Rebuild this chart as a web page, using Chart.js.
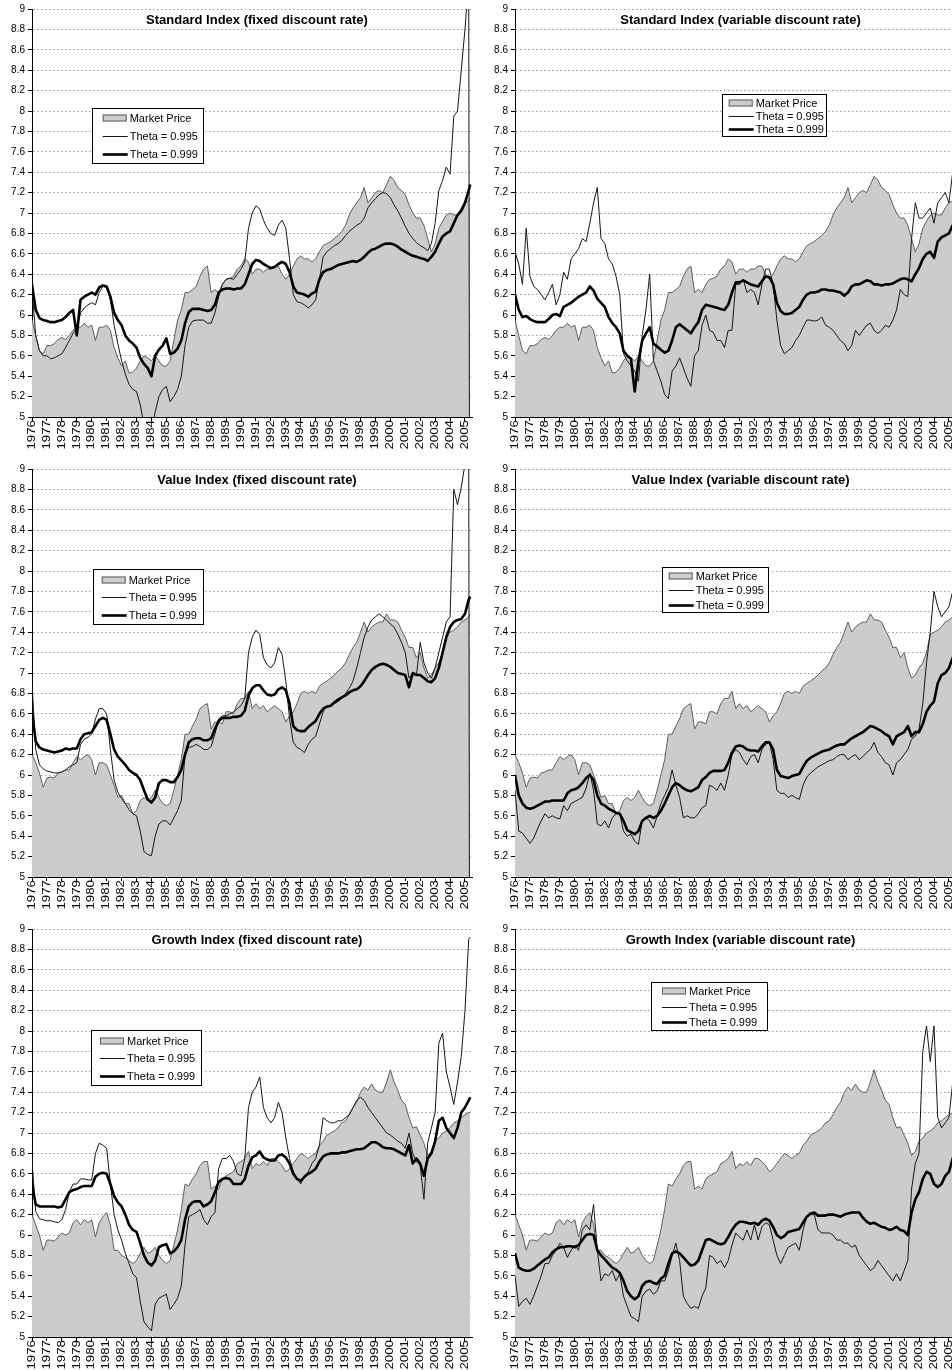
<!DOCTYPE html>
<html>
<head>
<meta charset="utf-8">
<script src="https://cdn.jsdelivr.net/npm/chart.js@4.4.1/dist/chart.umd.min.js"></script>
<style>
html, body { margin: 0; padding: 0; background: #fff; overflow: hidden; }
body { width: 952px; height: 1370px; position: relative; }
.panel { position: absolute; height: 455px; }
.panel.left { left: 0; width: 476px; }
.panel.right { left: 476px; width: 484px; }
</style>
</head>
<body>
<div class="panel left" style="top:0"><canvas id="c1" width="476" height="455"></canvas></div>
<div class="panel right" style="top:0"><canvas id="c2" width="484" height="455"></canvas></div>
<div class="panel left" style="top:460px"><canvas id="c3" width="476" height="455"></canvas></div>
<div class="panel right" style="top:460px"><canvas id="c4" width="484" height="455"></canvas></div>
<div class="panel left" style="top:920px"><canvas id="c5" width="476" height="455"></canvas></div>
<div class="panel right" style="top:920px"><canvas id="c6" width="484" height="455"></canvas></div>
<script>
// quarterly sample dates, last one is the final month shown
const tQuarter = [];
for (let i = 0; i < 118; i++) tQuarter.push(1976 + i / 4);
tQuarter.push(2005.35);

// ---- Standard index ----
const priceStd = [
    5.95, 5.80, 5.65, 5.62, 5.70, 5.70, 5.72, 5.76,
    5.78, 5.76, 5.80, 5.85, 5.88, 5.88, 5.92, 5.88,
    5.90, 5.75, 5.88, 5.88, 5.90, 5.85, 5.68, 5.58,
    5.50, 5.55, 5.43, 5.44, 5.48, 5.55, 5.60, 5.58,
    5.55, 5.60, 5.55, 5.50, 5.50, 5.55, 5.75, 5.95,
    6.05, 6.22, 6.22, 6.25, 6.28, 6.38, 6.45, 6.48,
    6.22, 6.25, 6.22, 6.30, 6.35, 6.36, 6.38, 6.45,
    6.48, 6.55, 6.52, 6.40, 6.45, 6.45, 6.42, 6.45,
    6.45, 6.48, 6.48, 6.40, 6.35, 6.40, 6.48, 6.55,
    6.58, 6.55, 6.55, 6.52, 6.55, 6.62, 6.68, 6.70,
    6.72, 6.75, 6.78, 6.82, 6.88, 6.98, 7.05, 7.10,
    7.15, 7.25, 7.10, 7.15, 7.20, 7.22, 7.20, 7.28,
    7.36, 7.32, 7.25, 7.22, 7.18, 7.08, 7.00, 6.95,
    6.95, 6.88, 6.75, 6.62, 6.70, 6.85, 6.92, 6.98,
    7.00, 6.98, 6.98, 7.05, 7.10, 7.12, 7.15
];
const stdFixed995 = [
    6.25, 5.80, 5.65, 5.60, 5.60, 5.57, 5.58, 5.60,
    5.62, 5.68, 5.75, 5.82, 5.87, 6.02, 6.07, 6.10,
    6.12, 6.10, 6.22, 6.28, 6.27, 6.15, 5.90, 5.72,
    5.55, 5.42, 5.32, 5.27, 5.25, 5.12, 4.92, 4.85,
    4.85, 5.05, 5.20, 5.27, 5.30, 5.15, 5.20, 5.27,
    5.40, 5.70, 5.88, 5.94, 5.95, 5.95, 5.95, 5.92,
    5.92, 6.02, 6.18, 6.30, 6.35, 6.36, 6.35, 6.40,
    6.45, 6.52, 6.85, 7.00, 7.07, 7.04, 6.93, 6.85,
    6.80, 6.78, 6.88, 6.93, 6.85, 6.55, 6.20, 6.13,
    6.12, 6.10, 6.07, 6.10, 6.15, 6.35, 6.57, 6.62,
    6.65, 6.68, 6.70, 6.73, 6.78, 6.82, 6.85, 6.88,
    6.90, 6.95, 7.05, 7.10, 7.14, 7.18, 7.20, 7.19,
    7.15, 7.08, 7.02, 6.95, 6.87, 6.80, 6.75, 6.71,
    6.68, 6.66, 6.63, 6.70, 6.90, 7.22, 7.32, 7.45,
    7.38, 7.95, 8.00, 8.40, 8.80, 9.30, 0
];
const stdFixed999 = [
    6.30, 6.05, 5.97, 5.95, 5.94, 5.93, 5.93, 5.94,
    5.95, 5.98, 6.02, 6.05, 5.80, 6.15, 6.18, 6.20,
    6.22, 6.20, 6.27, 6.29, 6.28, 6.18, 6.02, 5.95,
    5.90, 5.80, 5.75, 5.72, 5.68, 5.58, 5.52, 5.48,
    5.40, 5.60, 5.66, 5.70, 5.77, 5.62, 5.63, 5.67,
    5.75, 5.92, 6.03, 6.06, 6.06, 6.06, 6.05, 6.04,
    6.05, 6.10, 6.22, 6.25, 6.26, 6.26, 6.25, 6.26,
    6.26, 6.30, 6.40, 6.50, 6.54, 6.53, 6.50, 6.48,
    6.46, 6.47, 6.50, 6.52, 6.50, 6.42, 6.28, 6.22,
    6.21, 6.20, 6.18, 6.21, 6.23, 6.35, 6.42, 6.44,
    6.45, 6.47, 6.49, 6.50, 6.51, 6.52, 6.53, 6.52,
    6.54, 6.57, 6.61, 6.64, 6.65, 6.67, 6.69, 6.70,
    6.70, 6.69, 6.67, 6.64, 6.62, 6.60, 6.58, 6.57,
    6.56, 6.55, 6.53, 6.57, 6.62, 6.70, 6.77, 6.80,
    6.82, 6.90, 6.98, 7.02, 7.10, 7.22, 7.28
];
const stdVar995 = [
    6.62, 6.50, 6.30, 6.85, 6.38, 6.28, 6.25, 6.20,
    6.15, 6.22, 6.30, 6.10, 6.20, 6.42, 6.35, 6.55,
    6.60, 6.65, 6.75, 6.72, 6.90, 7.10, 7.25, 6.75,
    6.70, 6.55, 6.50, 6.38, 6.20, 5.62, 5.55, 5.50,
    5.45, 5.35, 5.80, 6.05, 6.40, 5.55, 5.45, 5.35,
    5.22, 5.18, 5.45, 5.50, 5.58, 5.48, 5.38, 5.30,
    5.60, 5.65, 5.90, 6.00, 5.85, 5.83, 5.75, 5.75,
    5.68, 5.85, 5.85, 6.30, 6.30, 6.35, 6.22, 6.25,
    6.22, 6.10, 6.30, 6.45, 6.45, 6.30, 5.95, 5.70,
    5.62, 5.65, 5.68, 5.75, 5.80, 5.88, 5.95, 5.95,
    5.94, 5.95, 5.98, 5.90, 5.88, 5.85, 5.80, 5.75,
    5.72, 5.65, 5.70, 5.85, 5.80, 5.85, 5.90, 5.92,
    5.85, 5.82, 5.85, 5.90, 5.88, 5.95, 6.05, 6.25,
    6.20, 6.18, 6.75, 7.10, 6.95, 6.95, 7.00, 7.05,
    6.90, 7.10, 7.15, 7.20, 7.10, 7.40, 7.45
];
const stdVar999 = [
    6.20, 6.05, 5.98, 5.99, 5.96, 5.94, 5.93, 5.93,
    5.93, 5.96, 6.00, 6.01, 5.99, 6.08, 6.10, 6.12,
    6.15, 6.18, 6.20, 6.22, 6.28, 6.24, 6.16, 6.12,
    6.08, 5.98, 5.92, 5.88, 5.82, 5.65, 5.60, 5.57,
    5.25, 5.55, 5.75, 5.82, 5.88, 5.72, 5.69, 5.66,
    5.63, 5.65, 5.75, 5.88, 5.91, 5.88, 5.85, 5.82,
    5.88, 5.93, 6.05, 6.10, 6.09, 6.08, 6.07, 6.06,
    6.05, 6.10, 6.22, 6.32, 6.32, 6.34, 6.32, 6.30,
    6.29, 6.28, 6.33, 6.38, 6.37, 6.30, 6.12, 6.04,
    6.01, 6.01, 6.02, 6.05, 6.08, 6.15, 6.20, 6.22,
    6.22, 6.23, 6.25, 6.25, 6.24, 6.24, 6.23, 6.22,
    6.19, 6.22, 6.28, 6.30, 6.30, 6.32, 6.34, 6.33,
    6.30, 6.30, 6.29, 6.30, 6.30, 6.31, 6.33, 6.35,
    6.36, 6.35, 6.33, 6.40, 6.46, 6.55, 6.60, 6.62,
    6.56, 6.72, 6.76, 6.78, 6.80, 6.88, 6.92
];

// ---- Value index ----
const priceVal = [
    6.20, 6.12, 6.02, 5.88, 5.97, 5.98, 5.97, 6.02,
    6.03, 6.05, 6.05, 6.12, 6.18, 6.15, 6.18, 6.20,
    6.15, 6.00, 6.12, 6.12, 6.10, 6.00, 5.90, 5.78,
    5.80, 5.72, 5.72, 5.62, 5.65, 5.75, 5.78, 5.75,
    5.78, 5.85, 5.78, 5.72, 5.70, 5.72, 5.85, 6.00,
    6.15, 6.40, 6.40, 6.48, 6.55, 6.65, 6.68, 6.70,
    6.45, 6.52, 6.52, 6.50, 6.62, 6.62, 6.60, 6.70,
    6.75, 6.75, 6.82, 6.65, 6.70, 6.65, 6.68, 6.62,
    6.65, 6.68, 6.65, 6.62, 6.52, 6.58, 6.62, 6.70,
    6.80, 6.82, 6.80, 6.82, 6.80, 6.87, 6.90, 6.92,
    6.95, 6.98, 7.02, 7.05, 7.10, 7.18, 7.25, 7.30,
    7.40, 7.50, 7.40, 7.45, 7.48, 7.50, 7.50, 7.58,
    7.52, 7.52, 7.50, 7.42, 7.35, 7.25, 7.25, 7.15,
    7.20, 7.05, 6.95, 6.98, 7.05, 7.10, 7.20, 7.38,
    7.40, 7.42, 7.45, 7.50, 7.52, 7.55, 7.58
];
const valFixed995 = [
    6.90, 6.25, 6.10, 6.06, 6.04, 6.03, 6.02, 6.02,
    6.03, 6.05, 6.08, 6.10, 6.12, 6.30, 6.35, 6.37,
    6.40, 6.55, 6.65, 6.65, 6.60, 6.25, 5.95, 5.83,
    5.77, 5.72, 5.66, 5.62, 5.60, 5.45, 5.25, 5.22,
    5.21, 5.40, 5.52, 5.55, 5.55, 5.51, 5.58, 5.65,
    5.75, 6.20, 6.27, 6.28, 6.30, 6.28, 6.25, 6.25,
    6.28, 6.40, 6.55, 6.58, 6.58, 6.60, 6.62, 6.65,
    6.68, 6.75, 7.20, 7.35, 7.42, 7.38, 7.15, 7.08,
    7.05, 7.10, 7.25, 7.18, 6.92, 6.55, 6.32, 6.27,
    6.25, 6.22, 6.30, 6.35, 6.38, 6.50, 6.62, 6.68,
    6.68, 6.70, 6.72, 6.75, 6.80, 6.85, 6.92, 7.05,
    7.20, 7.35, 7.45, 7.52, 7.55, 7.58, 7.55, 7.52,
    7.48, 7.45, 7.38, 7.30, 7.20, 6.95, 7.00, 6.98,
    7.30, 7.10, 7.00, 6.95, 7.05, 7.20, 7.35, 7.50,
    7.55, 8.80, 8.65, 8.82, 9.05, 9.30, 0
];
const valFixed999 = [
    6.62, 6.33, 6.27, 6.25, 6.24, 6.23, 6.22, 6.23,
    6.24, 6.26, 6.25, 6.26, 6.26, 6.35, 6.40, 6.41,
    6.42, 6.48, 6.54, 6.56, 6.54, 6.40, 6.25, 6.18,
    6.14, 6.10, 6.05, 6.02, 6.00, 5.95, 5.85, 5.76,
    5.73, 5.78, 5.92, 5.95, 5.95, 5.93, 5.93, 5.98,
    6.05, 6.20, 6.32, 6.35, 6.36, 6.36, 6.34, 6.34,
    6.36, 6.45, 6.53, 6.56, 6.56, 6.56, 6.57, 6.57,
    6.58, 6.63, 6.78, 6.85, 6.88, 6.88, 6.83, 6.79,
    6.78, 6.79, 6.84, 6.86, 6.83, 6.70, 6.48, 6.44,
    6.43, 6.43, 6.47, 6.50, 6.53, 6.60, 6.65, 6.67,
    6.68, 6.71, 6.74, 6.76, 6.78, 6.81, 6.83, 6.84,
    6.87, 6.92, 6.98, 7.03, 7.06, 7.08, 7.09, 7.08,
    7.06, 7.03, 7.00, 6.99, 6.98, 6.86, 7.00, 6.98,
    6.98, 6.95, 6.92, 6.91, 6.95, 7.05, 7.20, 7.35,
    7.45, 7.50, 7.52, 7.53, 7.58, 7.72, 7.75
];
const valVar995 = [
    5.85, 5.45, 5.43, 5.38, 5.33, 5.38, 5.47, 5.55,
    5.62, 5.58, 5.60, 5.58, 5.57, 5.70, 5.65, 5.72,
    5.74, 5.76, 5.78, 5.87, 6.02, 5.85, 5.52, 5.50,
    5.55, 5.48, 5.58, 5.62, 5.62, 5.45, 5.40, 5.42,
    5.35, 5.32, 5.55, 5.58, 5.55, 5.48, 5.60, 5.72,
    5.80, 5.88, 6.05, 5.90, 5.78, 5.58, 5.60, 5.58,
    5.58, 5.62, 5.68, 5.70, 5.90, 5.88, 5.85, 5.92,
    5.85, 6.00, 6.20, 6.25, 6.22, 6.15, 6.10, 6.18,
    6.20, 6.12, 6.25, 6.30, 6.32, 6.15, 5.85, 5.82,
    5.82, 5.78, 5.80, 5.78, 5.76, 5.90, 5.98, 6.02,
    6.05, 6.08, 6.10, 6.12, 6.14, 6.15, 6.18, 6.20,
    6.20, 6.15, 6.18, 6.20, 6.15, 6.18, 6.22, 6.25,
    6.32, 6.22, 6.18, 6.12, 6.10, 6.00, 6.12, 6.15,
    6.20, 6.25, 6.35, 6.38, 6.45, 6.70, 7.10, 7.40,
    7.80, 7.65, 7.55, 7.60, 7.65, 7.80, 7.82
];
const valVar999 = [
    6.00, 5.80, 5.72, 5.68, 5.67, 5.68, 5.70, 5.72,
    5.74, 5.74, 5.75, 5.75, 5.75, 5.75, 5.82, 5.85,
    5.86, 5.88, 5.92, 5.97, 6.00, 5.95, 5.80, 5.72,
    5.70, 5.67, 5.65, 5.63, 5.62, 5.55, 5.46, 5.44,
    5.42, 5.45, 5.55, 5.58, 5.60, 5.58, 5.60, 5.65,
    5.72, 5.80, 5.88, 5.92, 5.90, 5.87, 5.85, 5.84,
    5.86, 5.88, 5.95, 5.98, 6.02, 6.04, 6.04, 6.04,
    6.05, 6.12, 6.22, 6.28, 6.29, 6.28, 6.25, 6.24,
    6.24, 6.23, 6.28, 6.32, 6.32, 6.25, 6.05, 5.99,
    5.98, 5.97, 5.99, 6.00, 6.01, 6.08, 6.14, 6.17,
    6.19, 6.21, 6.23, 6.24, 6.25, 6.27, 6.29, 6.30,
    6.30, 6.33, 6.36, 6.38, 6.40, 6.42, 6.45, 6.48,
    6.47, 6.45, 6.43, 6.40, 6.38, 6.30, 6.38, 6.40,
    6.42, 6.48, 6.38, 6.42, 6.42, 6.50, 6.62, 6.68,
    6.72, 6.90, 6.98, 7.00, 7.05, 7.15, 7.18
];

// ---- Growth index ----
const priceGro = [
    6.20, 6.10, 6.00, 5.85, 5.95, 5.95, 5.94, 5.98,
    6.02, 6.00, 6.02, 6.12, 6.15, 6.10, 6.15, 6.12,
    6.15, 5.98, 6.12, 6.18, 6.22, 6.10, 5.85, 5.85,
    5.80, 5.78, 5.75, 5.72, 5.75, 5.82, 5.88, 5.82,
    5.84, 5.88, 5.80, 5.75, 5.72, 5.75, 5.90, 6.05,
    6.25, 6.50, 6.48, 6.55, 6.60, 6.68, 6.72, 6.72,
    6.45, 6.48, 6.45, 6.55, 6.58, 6.60, 6.62, 6.70,
    6.72, 6.75, 6.82, 6.65, 6.70, 6.68, 6.72, 6.68,
    6.75, 6.75, 6.72, 6.68, 6.62, 6.65, 6.70, 6.75,
    6.80, 6.78, 6.75, 6.78, 6.80, 6.88, 6.92, 6.98,
    7.00, 7.02, 7.05, 7.10, 7.12, 7.18, 7.25, 7.30,
    7.40, 7.45, 7.42, 7.48, 7.42, 7.40, 7.40, 7.50,
    7.62, 7.50, 7.42, 7.32, 7.28, 7.15, 7.05, 7.06,
    6.98, 6.90, 6.78, 6.82, 6.92, 6.95, 7.00, 7.02,
    7.05, 7.10, 7.12, 7.15, 7.18, 7.20, 7.20
];
const groFixed995 = [
    6.72, 6.23, 6.16, 6.15, 6.14, 6.14, 6.13, 6.12,
    6.15, 6.25, 6.42, 6.50, 6.50, 6.55, 6.55, 6.54,
    6.54, 6.80, 6.90, 6.88, 6.85, 6.50, 6.20, 6.05,
    5.95, 5.82, 5.72, 5.62, 5.58, 5.35, 5.15, 5.10,
    5.06, 5.32, 5.38, 5.40, 5.42, 5.27, 5.32, 5.38,
    5.50, 5.90, 6.18, 6.20, 6.22, 6.25, 6.15, 6.10,
    6.18, 6.22, 6.65, 6.75, 6.75, 6.78, 6.72, 6.60,
    6.58, 6.75, 7.25, 7.40, 7.45, 7.55, 7.25, 7.15,
    7.10, 7.15, 7.30, 7.20, 6.95, 6.75, 6.62, 6.55,
    6.50, 6.58, 6.62, 6.70, 6.75, 6.88, 7.15, 7.12,
    7.10, 7.10, 7.12, 7.12, 7.15, 7.18, 7.25, 7.32,
    7.35, 7.32, 7.25, 7.20, 7.15, 7.10, 7.05, 7.00,
    6.98, 6.95, 6.92, 6.90, 6.85, 7.00, 6.80, 6.72,
    6.68, 6.35, 6.90, 7.05, 7.20, 7.88, 7.98, 7.60,
    7.45, 7.28, 7.50, 7.75, 8.20, 8.90, 8.92
];
const groFixed999 = [
    6.50, 6.30, 6.28, 6.28, 6.28, 6.28, 6.28, 6.27,
    6.28, 6.35, 6.42, 6.44, 6.45, 6.47, 6.48, 6.48,
    6.48, 6.57, 6.60, 6.61, 6.60, 6.50, 6.38, 6.32,
    6.28, 6.20, 6.10, 6.05, 6.03, 5.92, 5.80, 5.73,
    5.70, 5.75, 5.88, 5.90, 5.91, 5.82, 5.84, 5.88,
    5.95, 6.15, 6.28, 6.32, 6.33, 6.33, 6.28, 6.30,
    6.33, 6.42, 6.52, 6.55, 6.56, 6.55, 6.50, 6.50,
    6.50, 6.55, 6.68, 6.76, 6.78, 6.82, 6.76, 6.74,
    6.73, 6.73, 6.78, 6.79, 6.76, 6.70, 6.60, 6.55,
    6.53, 6.57, 6.60, 6.62, 6.65, 6.72, 6.77, 6.79,
    6.80, 6.80, 6.80, 6.81, 6.81, 6.82, 6.83, 6.84,
    6.84, 6.85, 6.88, 6.91, 6.91, 6.89, 6.86, 6.85,
    6.85, 6.84, 6.82, 6.80, 6.78, 6.88, 6.70, 6.75,
    6.70, 6.58, 6.75, 6.80, 6.92, 7.12, 7.15, 7.05,
    7.00, 6.95, 7.05, 7.20, 7.25, 7.32, 7.35
];
const groVar995 = [
    5.60, 5.30, 5.35, 5.38, 5.32, 5.40, 5.50, 5.60,
    5.72, 5.72, 5.80, 5.85, 5.92, 5.88, 5.78, 5.85,
    5.90, 5.85, 6.05, 6.10, 6.05, 6.30, 5.85, 5.55,
    5.62, 5.60, 5.65, 5.55, 5.62, 5.40, 5.30, 5.20,
    5.18, 5.15, 5.40, 5.45, 5.47, 5.42, 5.45, 5.55,
    5.55, 5.65, 5.80, 5.92, 5.75, 5.40, 5.33, 5.28,
    5.30, 5.28, 5.40, 5.48, 5.80, 5.78, 5.72, 5.75,
    5.68, 5.75, 5.90, 6.02, 5.98, 5.95, 6.05, 5.95,
    6.10, 5.95, 6.08, 6.12, 6.10, 5.95, 5.80, 5.72,
    5.80, 5.88, 5.90, 5.92, 5.85, 6.05, 6.18, 6.20,
    6.20, 6.05, 6.02, 6.02, 6.02, 6.00, 5.95, 5.95,
    5.92, 5.92, 5.88, 5.90, 5.80, 5.75, 5.70, 5.65,
    5.68, 5.75, 5.70, 5.65, 5.60, 5.55, 5.62, 5.55,
    5.65, 5.75, 6.45, 6.70, 6.80, 7.80, 8.05, 7.70,
    8.05, 7.15, 7.05, 7.10, 7.15, 7.50, 7.55
];
const groVar999 = [
    5.82, 5.68, 5.66, 5.65, 5.65, 5.67, 5.70, 5.73,
    5.76, 5.78, 5.83, 5.86, 5.88, 5.88, 5.89, 5.89,
    5.88, 5.90, 5.95, 6.00, 6.01, 6.00, 5.85, 5.80,
    5.76, 5.72, 5.68, 5.66, 5.63, 5.55, 5.45, 5.40,
    5.37, 5.40, 5.50, 5.54, 5.55, 5.53, 5.52, 5.57,
    5.60, 5.72, 5.82, 5.84, 5.82, 5.78, 5.74, 5.70,
    5.71, 5.75, 5.85, 5.95, 5.96, 5.94, 5.92, 5.91,
    5.92, 5.98, 6.05, 6.10, 6.13, 6.13, 6.12, 6.11,
    6.12, 6.10, 6.14, 6.16, 6.14, 6.08, 6.00, 5.97,
    5.99, 6.03, 6.04, 6.05, 6.06, 6.12, 6.18, 6.21,
    6.22, 6.19, 6.19, 6.19, 6.20, 6.20, 6.19, 6.18,
    6.20, 6.21, 6.22, 6.22, 6.22, 6.17, 6.13, 6.11,
    6.12, 6.10, 6.08, 6.07, 6.05, 6.06, 6.08, 6.05,
    6.04, 6.00, 6.22, 6.35, 6.42, 6.55, 6.62, 6.60,
    6.50, 6.47, 6.50, 6.58, 6.62, 6.75, 6.80
];

const FONT = '"Liberation Sans", Arial, sans-serif';

// title, rotated year labels and the boxed legend inside each panel
const panelDecor = {
    id: 'panelDecor',
    afterDraw(chart, args, opts) {
        const { ctx, chartArea: a } = chart;
        ctx.save();

        ctx.fillStyle = '#000';
        ctx.font = 'bold 13px ' + FONT;
        ctx.textAlign = 'center';
        ctx.textBaseline = 'middle';
        ctx.fillText(opts.title, (a.left + a.right) / 2 + 5, a.top + 11);

        // year labels, stretched like the original
        const xs = chart.scales.x;
        ctx.font = '10px ' + FONT;
        xs.ticks.forEach(tk => {
            const px = xs.getPixelForValue(tk.value);
            ctx.save();
            ctx.translate(px, xs.top + 3);
            ctx.rotate(-Math.PI / 2);
            ctx.scale(1.33, 1);
            ctx.textAlign = 'right';
            ctx.textBaseline = 'middle';
            ctx.fillText(String(tk.value), 0, 0);
            ctx.restore();
        });

        // legend
        const L = opts.legend;
        ctx.fillStyle = '#fff';
        ctx.fillRect(L.x, L.y, L.w, L.h);
        ctx.strokeStyle = '#000';
        ctx.lineWidth = 1;
        ctx.strokeRect(L.x + 0.5, L.y + 0.5, L.w - 1, L.h - 1);
        const first = L.y + (L.h - 2 * L.gap) / 2;
        const sx = L.x + L.pad;
        ctx.font = '11px ' + FONT;
        ctx.textAlign = 'left';
        ctx.textBaseline = 'middle';
        chart.data.datasets.forEach((d, i) => {
            const ry = Math.round(first + i * L.gap);
            if (d.fill) {
                ctx.fillStyle = d.backgroundColor;
                ctx.fillRect(sx, ry - 3.5, 24, 7);
                ctx.strokeStyle = d.borderColor;
                ctx.lineWidth = 1;
                ctx.strokeRect(sx + 0.5, ry - 3, 23, 6);
            } else {
                ctx.strokeStyle = d.borderColor;
                ctx.lineWidth = d.borderWidth;
                ctx.beginPath();
                ctx.moveTo(sx, ry + 0.5);
                ctx.lineTo(sx + 25, ry + 0.5);
                ctx.stroke();
            }
            ctx.fillStyle = '#000';
            ctx.fillText(d.label, sx + 27, ry + 1);
        });
        ctx.restore();
    }
};

const panels = [
    { id: 'c1', side: 'left', title: 'Standard Index (fixed discount rate)',
      price: priceStd, thin: stdFixed995, thick: stdFixed999,
      legend: { x: 92, y: 108, w: 112, h: 56, gap: 18, pad: 10.7 } },
    { id: 'c2', side: 'right', title: 'Standard Index (variable discount rate)',
      price: priceStd, thin: stdVar995, thick: stdVar999,
      legend: { x: 246, y: 94, w: 105, h: 43, gap: 13, pad: 6.7 } },
    { id: 'c3', side: 'left', title: 'Value Index (fixed discount rate)',
      price: priceVal, thin: valFixed995, thick: valFixed999,
      legend: { x: 93, y: 109, w: 111, h: 56, gap: 17.5, pad: 8.7 } },
    { id: 'c4', side: 'right', title: 'Value Index (variable discount rate)',
      price: priceVal, thin: valVar995, thick: valVar999,
      legend: { x: 186, y: 107, w: 107, h: 46, gap: 14.5, pad: 6.7 } },
    { id: 'c5', side: 'left', title: 'Growth Index (fixed discount rate)',
      price: priceGro, thin: groFixed995, thick: groFixed999,
      legend: { x: 91, y: 110, w: 111, h: 56, gap: 17.5, pad: 9 } },
    { id: 'c6', side: 'right', title: 'Growth Index (variable discount rate)',
      price: priceGro, thin: groVar995, thick: groVar999,
      legend: { x: 175, y: 62, w: 117, h: 49, gap: 15.5, pad: 11 } },
];

const pts = arr => tQuarter.map((x, i) => ({ x, y: arr[i] }));

function makeChart(p) {
    const yWidth = p.side === 'left' ? 32 : 39;
    new Chart(document.getElementById(p.id), {
        type: 'line',
        data: {
            datasets: [
                { label: 'Market Price', data: pts(p.price), fill: 'start',
                  backgroundColor: '#cccccc', borderColor: '#5e5e5e', borderWidth: 1, order: 3, clip: 0 },
                { label: 'Theta = 0.995', data: pts(p.thin), fill: false,
                  borderColor: '#161616', borderWidth: 1, order: 2, clip: 0 },
                { label: 'Theta = 0.999', data: pts(p.thick), fill: false,
                  borderColor: '#000000', borderWidth: 2.6, order: 1, clip: 0 },
            ]
        },
        options: {
            responsive: false,
            animation: false,
            events: [],
            layout: { padding: { top: 9, right: 4, bottom: 2, left: 0 } },
            elements: {
                point: { radius: 0 },
                line: { tension: 0, borderJoinStyle: 'round' }
            },
            scales: {
                x: {
                    type: 'linear',
                    min: 1976,
                    max: 2005.47,
                    afterFit: s => { s.height = 36; },
                    ticks: { stepSize: 1, includeBounds: false, autoSkip: false, display: false },
                    grid: { drawOnChartArea: false, color: '#000', tickLength: 4 },
                    border: { color: '#000', width: 1 }
                },
                y: {
                    min: 5,
                    max: 9,
                    afterFit: s => { s.width = yWidth; },
                    ticks: {
                        stepSize: 0.2,
                        color: '#000',
                        padding: 3,
                        font: { family: FONT, size: 10 },
                        callback: v => String(+v.toFixed(1))
                    },
                    grid: { color: '#9a9a9a', tickColor: '#000', tickLength: 4, lineWidth: 1 },
                    border: { color: '#000', width: 1, dash: [1.5, 2.5] }
                }
            },
            plugins: {
                legend: { display: false },
                tooltip: { enabled: false },
                title: { display: false },
                panelDecor: { title: p.title, legend: p.legend }
            }
        },
        plugins: [panelDecor]
    });
}

panels.forEach(makeChart);
</script>
</body>
</html>
